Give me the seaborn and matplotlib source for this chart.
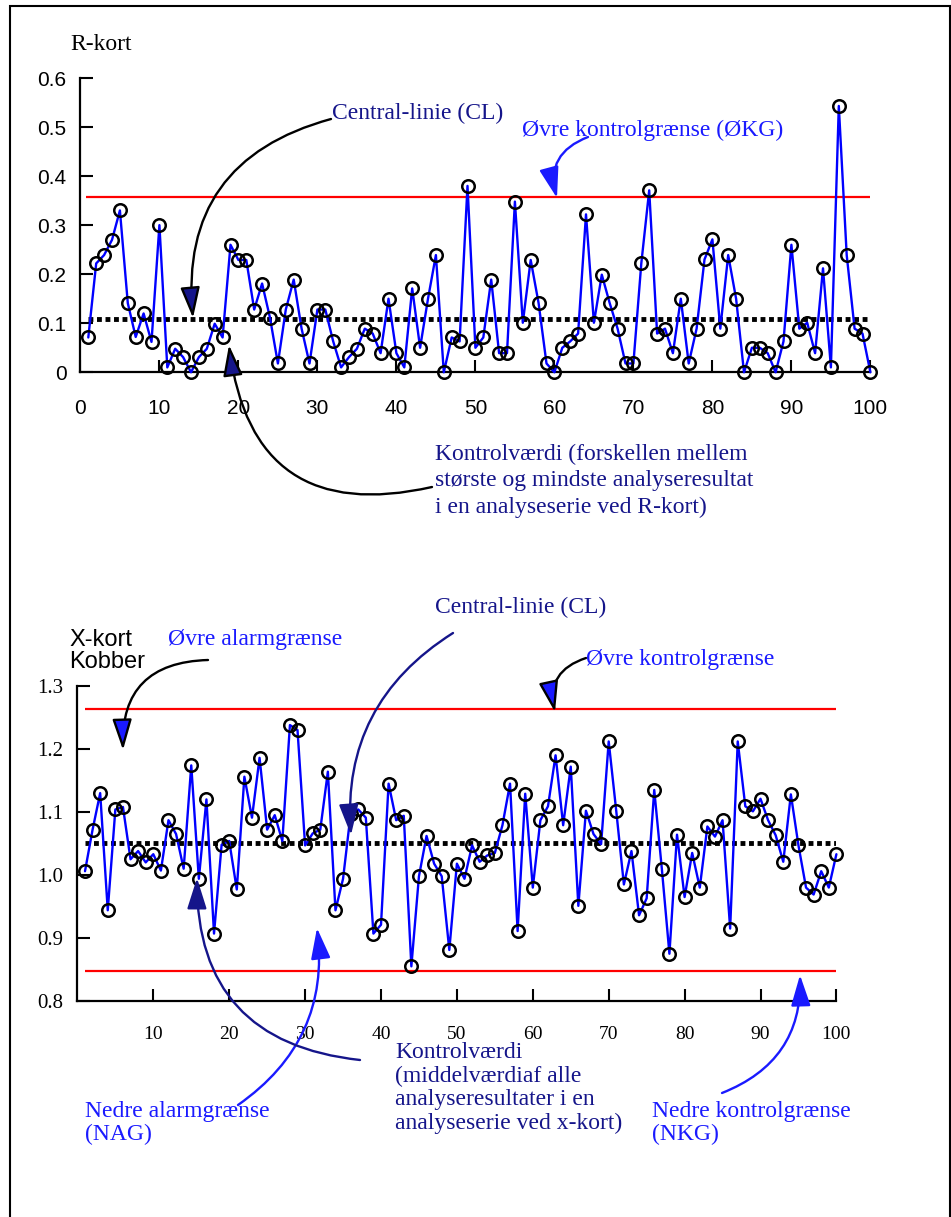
import matplotlib
matplotlib.use("Agg")
import matplotlib.pyplot as plt
from matplotlib.patches import FancyArrowPatch, Rectangle
import seaborn as sns
import numpy as np

# -------------------------
# data
# -------------------------
runs = list(range(1, 101))

r_values = [0.071, 0.222, 0.239, 0.270, 0.330, 0.141, 0.072, 0.120, 0.062, 0.300,
            0.010, 0.048, 0.031, 0.000, 0.031, 0.048, 0.099, 0.071, 0.260, 0.229,
            0.229, 0.128, 0.181, 0.111, 0.018, 0.128, 0.189, 0.089, 0.018, 0.128,
            0.128, 0.063, 0.010, 0.031, 0.048, 0.089, 0.079, 0.039, 0.150, 0.039,
            0.010, 0.171, 0.050, 0.150, 0.239, 0.000, 0.071, 0.063, 0.380, 0.050,
            0.071, 0.189, 0.039, 0.039, 0.348, 0.101, 0.229, 0.141, 0.018, 0.000,
            0.050, 0.063, 0.079, 0.322, 0.101, 0.199, 0.141, 0.089, 0.018, 0.018,
            0.222, 0.371, 0.079, 0.089, 0.039, 0.150, 0.018, 0.089, 0.230, 0.271,
            0.089, 0.239, 0.150, 0.000, 0.050, 0.050, 0.039, 0.000, 0.063, 0.260,
            0.089, 0.101, 0.039, 0.212, 0.010, 0.543, 0.239, 0.089, 0.079, 0.000]

x_values = [1.006, 1.072, 1.130, 0.944, 1.104, 1.108, 1.025, 1.038, 1.020, 1.033,
            1.007, 1.087, 1.065, 1.010, 1.174, 0.994, 1.120, 0.907, 1.048, 1.054,
            0.977, 1.156, 1.091, 1.186, 1.072, 1.095, 1.054, 1.238, 1.230, 1.047,
            1.066, 1.072, 1.164, 0.944, 0.994, 1.097, 1.104, 1.091, 0.907, 0.921,
            1.145, 1.087, 1.094, 0.855, 0.998, 1.062, 1.018, 0.998, 0.881, 1.018,
            0.994, 1.047, 1.021, 1.031, 1.035, 1.079, 1.145, 0.911, 1.129, 0.980,
            1.087, 1.109, 1.190, 1.079, 1.172, 0.951, 1.102, 1.065, 1.049, 1.212,
            1.101, 0.985, 1.038, 0.936, 0.963, 1.135, 1.010, 0.875, 1.064, 0.965,
            1.035, 0.980, 1.077, 1.061, 1.087, 0.915, 1.212, 1.109, 1.101, 1.121,
            1.087, 1.063, 1.021, 1.128, 1.047, 0.980, 0.969, 1.006, 0.980, 1.033]

r_cl, r_ucl = 0.108, 0.357
x_cl, x_ucl, x_lcl = 1.051, 1.264, 0.848

r_yticks = [0, 0.1, 0.2, 0.3, 0.4, 0.5, 0.6]
r_ylabels = ["0", "0.1", "0.2", "0.3", "0.4", "0.5", "0.6"]
r_xticks = list(range(0, 101, 10))
x_yticks = [0.8, 0.9, 1.0, 1.1, 1.2, 1.3]
x_ylabels = ["0.8", "0.9", "1.0", "1.1", "1.2", "1.3"]
x_xticks = list(range(10, 101, 10))

# -------------------------
# style
# -------------------------
sns.set_style("ticks")
SERIF = ["Liberation Serif", "DejaVu Serif"]
SANS = ["Liberation Sans", "DejaVu Sans"]
plt.rcParams["font.family"] = SANS

NAVY = "#15158a"
BLUE = "#1a1aff"
W, H = 951, 1217

fig = plt.figure(figsize=(W / 100, H / 100), dpi=100)


def fp(x, y):
    # picture pixel (from top-left) -> figure fraction
    return (x / W, 1 - y / H)


def style_axis(ax):
    sns.despine(ax=ax)
    for s in ["left", "bottom"]:
        ax.spines[s].set_linewidth(1.6)
        ax.spines[s].set_color("black")
    ax.tick_params(direction="in", length=9, width=1.5, colors="black")
    ax.grid(False)
    ax.set_facecolor("white")


def draw_series(ax, y):
    sns.lineplot(x=runs, y=y, ax=ax, color="blue", linewidth=1.7,
                 marker="o", markersize=9, markerfacecolor="none",
                 markeredgecolor="black", markeredgewidth=1.8, clip_on=False,
                 zorder=5)


# -------------------------
# R-kort
# -------------------------
ax1 = fig.add_axes([80.4 / W, (H - 372.3) / H, 790 / W, 294.3 / H])
style_axis(ax1)
ax1.hlines(r_ucl, 0.75, 100, color="red", linewidth=1.6, zorder=3)
ax1.hlines(r_cl, 1, 100, color="black", linewidth=3.5,
           linestyles=[(0, (1, 0.75))], zorder=3)
draw_series(ax1, r_values)
ax1.set_xlim(0, 100)
ax1.set_ylim(0, 0.6)
ax1.set_xticks(r_xticks)
ax1.set_xticklabels([str(t) for t in r_xticks], fontsize=15)
ax1.set_yticks(r_yticks)
ax1.set_yticklabels(r_ylabels, fontsize=15)
ax1.tick_params(axis="y", pad=10)
ax1.tick_params(axis="x", pad=19)
ax1.set_xlabel("")
ax1.set_ylabel("")

# -------------------------
# X-kort
# -------------------------
ax2 = fig.add_axes([77.4 / W, 216 / H, 759 / W, 315 / H])
style_axis(ax2)
ax2.hlines([x_ucl, x_lcl], 1, 100, color="red", linewidth=1.6, zorder=3)
ax2.hlines(x_cl, 1, 100, color="black", linewidth=3.5,
           linestyles=[(0, (1, 0.75))], zorder=3)
draw_series(ax2, x_values)
ax2.set_xlim(0, 100)
ax2.set_ylim(0.8, 1.3)
ax2.set_xticks(x_xticks)
ax2.set_xticklabels([str(t) for t in x_xticks], fontsize=14, family=SERIF)
ax2.set_yticks(x_yticks)
ax2.set_yticklabels(x_ylabels, fontsize=15, family=SERIF)
ax2.tick_params(axis="y", pad=10)
ax2.tick_params(axis="x", pad=18)
ax2.set_xlabel("")
ax2.set_ylabel("")

# -------------------------
# texts
# -------------------------
def label(x, y, s, color, family=SERIF, size=17, ha="left", va="center", ls=1.0):
    fig.text(*fp(x, y), s, color=color, family=family, fontsize=size,
             ha=ha, va=va, linespacing=ls)


label(70, 44, "R-kort", "black")
label(332, 113, "Central-linie (CL)", NAVY)
label(522, 130, "Øvre kontrolgrænse (ØKG)", BLUE)
label(435, 481, "Kontrolværdi (forskellen mellem\nstørste og mindste analyseresultat\n"
      "i en analyseserie ved R-kort)", NAVY, ls=1.32)

label(69, 651, "X-kort\nKobber", "black", family=SANS, size=17, ls=1.05)
label(435, 607, "Central-linie (CL)", NAVY)
label(168, 640, "Øvre alarmgrænse", BLUE)
label(586, 660, "Øvre kontrolgrænse", BLUE)
label(85, 1123, "Nedre alarmgrænse\n(NAG)", BLUE, ls=1.12)
label(395, 1088, "Kontrolværdi\n(middelværdiaf alle\nanalyseresultater i en\n"
      "analyseserie ved x-kort)", NAVY, ls=1.15)
label(652, 1123, "Nedre kontrolgrænse\n(NKG)", BLUE, ls=1.12)

# -------------------------
# curved arrows
# -------------------------
def arrow(start, end, rad, line_color, head_color):
    a = FancyArrowPatch(fp(*start), fp(*end), transform=fig.transFigure,
                        connectionstyle=f"arc3,rad={rad}",
                        arrowstyle="-|>,head_length=0.95,head_width=0.3",
                        mutation_scale=20, linewidth=1.7, edgecolor=line_color,
                        facecolor=head_color, shrinkA=0, shrinkB=0, zorder=10)
    fig.add_artist(a)


arrow((331, 119), (193, 318), 0.42, "black", NAVY)
arrow((588, 137), (557, 198), 0.45, BLUE, BLUE)
arrow((432, 487), (229, 345), -0.55, "black", NAVY)

arrow((208, 660), (123, 750), 0.5, "black", BLUE)
arrow((453, 633), (351, 835), 0.3, NAVY, NAVY)
arrow((586, 658), (555, 712), 0.45, "black", BLUE)
arrow((238, 1105), (317, 928), 0.3, BLUE, BLUE)
arrow((360, 1060), (197, 878), -0.45, NAVY, NAVY)
arrow((722, 1093), (800, 975), 0.35, BLUE, BLUE)

# frame round the figure
fig.add_artist(Rectangle(fp(10, 1240), (W - 11) / W, (1240 - 6) / H,
                         transform=fig.transFigure, fill=False,
                         edgecolor="black", linewidth=1.5))

fig.savefig("out.png", dpi=100, facecolor="white")
